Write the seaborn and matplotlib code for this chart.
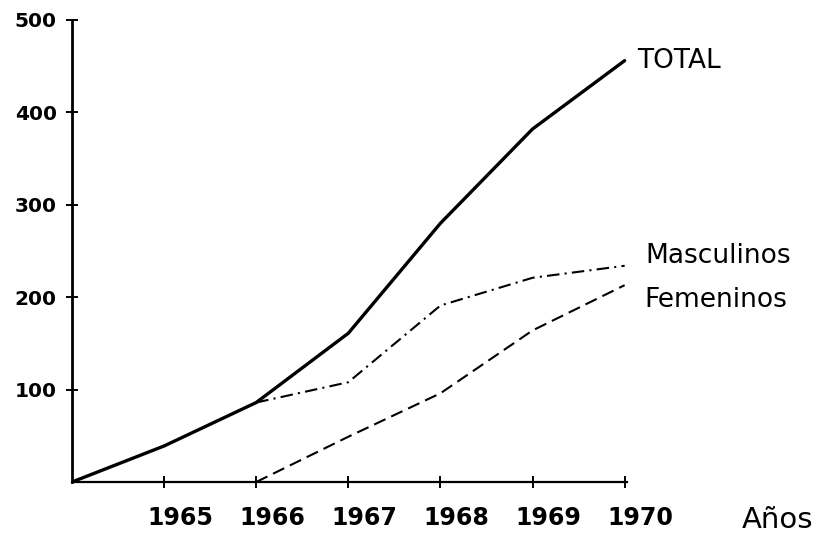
import matplotlib
matplotlib.use("Agg")
import matplotlib.pyplot as plt
import matplotlib.transforms as mtransforms
import seaborn as sns
import pandas as pd

# ---- data ----
years_total = [1964, 1965, 1966, 1967, 1968, 1969, 1970]
total = [0, 39, 86, 161, 280, 382, 456]

years_sex = [1966, 1967, 1968, 1969, 1970]
masculinos = [86, 108, 191, 221, 234]
femeninos = [0, 49, 96, 164, 213]

x_tick_years = [1965, 1966, 1967, 1968, 1969, 1970]
x_tick_labels = ["1965", "1966", "1967", "1968", "1969", "1970"]
y_ticks = [100, 200, 300, 400, 500]
y_tick_labels = ["100", "200", "300", "400", "500"]

series_names = ["TOTAL", "Masculinos", "Femeninos"]
x_axis_label = "Años"

df = pd.concat([
    pd.DataFrame({"year": years_total, "value": total, "serie": series_names[0]}),
    pd.DataFrame({"year": years_sex, "value": masculinos, "serie": series_names[1]}),
    pd.DataFrame({"year": years_sex, "value": femeninos, "serie": series_names[2]}),
], ignore_index=True)

sns.set_style("white")
plt.rcParams["font.family"] = ["DejaVu Sans"]

fig = plt.figure(figsize=(8.18, 5.37), dpi=100)
ax = fig.add_axes([0.088, 0.1024, 0.679, 0.8604])

sns.lineplot(data=df, x="year", y="value", hue="serie", style="serie",
             palette={n: "black" for n in series_names},
             dashes={"TOTAL": "", "Masculinos": (6, 2.5, 1, 2.5), "Femeninos": (6, 3)},
             size="serie", sizes={"TOTAL": 2.4, "Masculinos": 1.5, "Femeninos": 1.5},
             legend=False, ax=ax, estimator=None, sort=False)

for s in ["top", "right"]:
    ax.spines[s].set_visible(False)
ax.spines["left"].set_linewidth(2.0)
ax.spines["bottom"].set_linewidth(1.6)
ax.spines["left"].set_color("black")
ax.spines["bottom"].set_color("black")

ax.set_yticks(y_ticks)
ax.set_yticklabels(y_tick_labels, fontsize=14.5, fontweight="bold")
ax.tick_params(axis="y", left=True, direction="inout", length=8, width=1.4, pad=7,
               colors="black")

ax.set_xticks(x_tick_years)
ax.set_xticklabels(x_tick_labels, fontsize=17, fontweight="bold")
ax.tick_params(axis="x", bottom=True, direction="inout", length=8, width=1.4, pad=13,
               colors="black")
# labels sit a little to the right of their tick marks, as in the drawing
shift = mtransforms.ScaledTranslation(16 / 100, 0, fig.dpi_scale_trans)
for lab in ax.get_xticklabels():
    lab.set_transform(lab.get_transform() + shift)

ax.set_xlim(1964, 1970.03)
ax.set_ylim(0, 500)

ax.set_xlabel("")
ax.set_ylabel("")

# series labels at the line ends
label_offsets = {"TOTAL": (9, 0),
                 "Masculinos": (15, 7),
                 "Femeninos": (14, -11)}
ends = {"TOTAL": (years_total[-1], total[-1]),
        "Masculinos": (years_sex[-1], masculinos[-1]),
        "Femeninos": (years_sex[-1], femeninos[-1])}
for name in series_names:
    dx, dy = label_offsets[name]
    ax.annotate(name, xy=ends[name], xytext=(dx, dy), textcoords="offset points",
                ha="left", va="center", fontsize=19, color="black", annotation_clip=False)

fig.text(0.95, 0.032, x_axis_label, ha="center", va="center", fontsize=21, color="black")

fig.savefig("out.png", dpi=100, facecolor="white")
